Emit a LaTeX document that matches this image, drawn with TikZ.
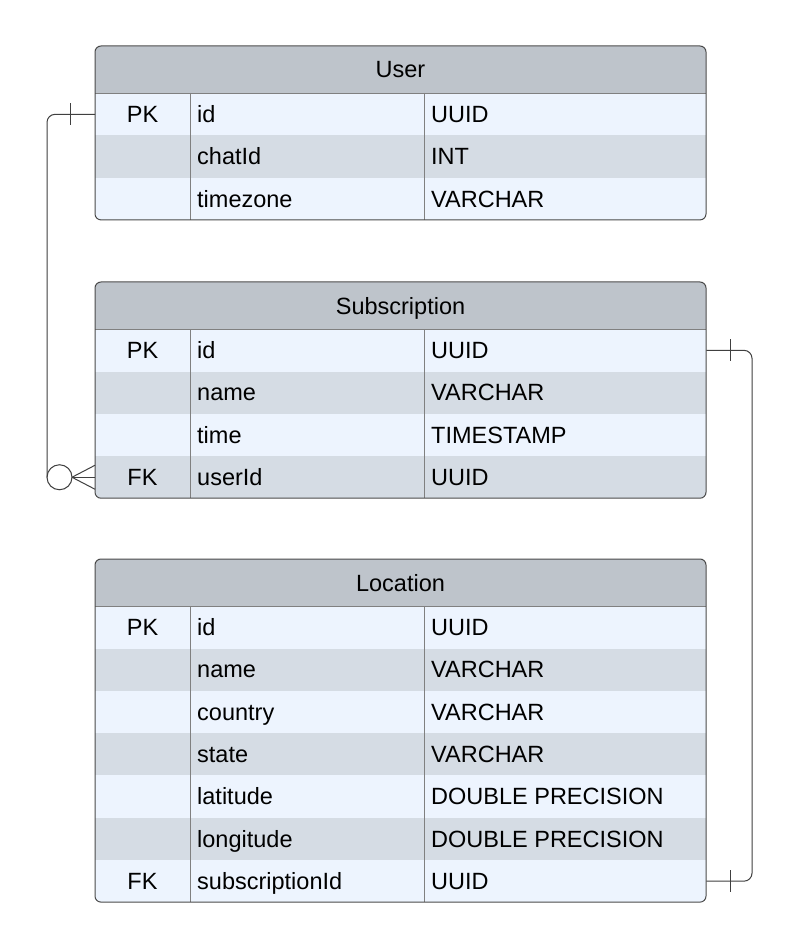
\documentclass[tikz,border=0pt]{standalone}
\usepackage{fontspec}
\setmainfont{Liberation Sans}
\definecolor{hdrgray}{HTML}{BEC4CB}
\definecolor{rowlight}{HTML}{EDF4FE}
\definecolor{rowdark}{HTML}{D5DCE4}
\definecolor{edgegray}{HTML}{4A4A4A}
\definecolor{colgray}{HTML}{808080}
\tikzset{
  cell/.style={inner sep=0pt, anchor=base, font=\fontsize{23.5}{28}\selectfont},
  rowbox/.style={minimum width=611pt, minimum height=42.3pt, inner sep=0pt, anchor=north west},
  conn/.style={draw=black!75, line width=1pt},
}
% one entity: name, top, title, number of rows, rows (key/field/type)
\newcommand{\erdtable}[5]{%
  \pgfmathsetmacro{\tbot}{#2+47+42.3*#4}
  \begin{scope}
    \clip[rounded corners=6pt] (95,#2) rectangle (706,\tbot);
    \fill[hdrgray] (95,#2) rectangle (706,#2+47);
    \foreach \k/\n/\t [count=\i] in {#5} {
      \pgfmathsetmacro{\ry}{#2+47+42.3*(\i-1)}
      \pgfmathsetmacro{\by}{\ry+21.15+8.5}
      \ifodd\i\relax\def\rc{rowlight}\else\def\rc{rowdark}\fi
      \node[rowbox, fill=\rc] (#1-r\i) at (95,\ry) {};
      \node[cell] (#1-k\i) at (142.5,\by) {\k};
      \node[cell, anchor=base west] (#1-n\i) at (197,\by) {\n};
      \node[cell, anchor=base west] (#1-t\i) at (431,\by) {\t};
    }
  \end{scope}
  \node[cell] (#1) at (400.5,#2+32) {#3};
  \draw[colgray] (95,#2+47) -- (706,#2+47);
  \draw[colgray] (190,#2+47) -- (190,\tbot);
  \draw[colgray] (424,#2+47) -- (424,\tbot);
  \draw[edgegray, line width=1pt, rounded corners=6pt] (95,#2) rectangle (706,\tbot);
}
\begin{document}
\begin{tikzpicture}[x=1pt,y=-1pt]
  \fill[white] (0,0) rectangle (800,949);
  \useasboundingbox (0,0) rectangle (800,949);

  \erdtable{user}{46}{User}{3}{PK/id/UUID, /chatId/INT, /timezone/VARCHAR}
  \erdtable{sub}{282}{Subscription}{4}{PK/id/UUID, /name/VARCHAR, /time/TIMESTAMP, FK/userId/UUID}
  \erdtable{loc}{559}{Location}{7}{PK/id/UUID, /name/VARCHAR, /country/VARCHAR, /state/VARCHAR,
    /latitude/DOUBLE PRECISION, /longitude/DOUBLE PRECISION, FK/subscriptionId/UUID}

  % user 1 -- n subscription
  \draw[conn, rounded corners=8pt] (user-r1.west) -| (sub-r4.west -| 47,0);
  \draw[conn] (user-r1.west -| 70,0) ++(0,-11) -- ++(0,22);
  \draw[conn] (sub-r4.west -| 59.5,0) circle (12.5);
  \draw[conn] (sub-r4.west -| 72,0) -- ++(23,-12);
  \draw[conn] (sub-r4.west -| 72,0) -- (sub-r4.west);
  \draw[conn] (sub-r4.west -| 72,0) -- ++(23,12);

  % subscription 1 -- 1 location
  \draw[conn, rounded corners=8pt] (sub-r1.east) -- (sub-r1.east -| 752,0)
    -- (loc-r7.east -| 752,0) -- (loc-r7.east);
  \draw[conn] (sub-r1.east -| 730,0) ++(0,-11) -- ++(0,22);
  \draw[conn] (loc-r7.east -| 730,0) ++(0,-11) -- ++(0,22);
\end{tikzpicture}
\end{document}
